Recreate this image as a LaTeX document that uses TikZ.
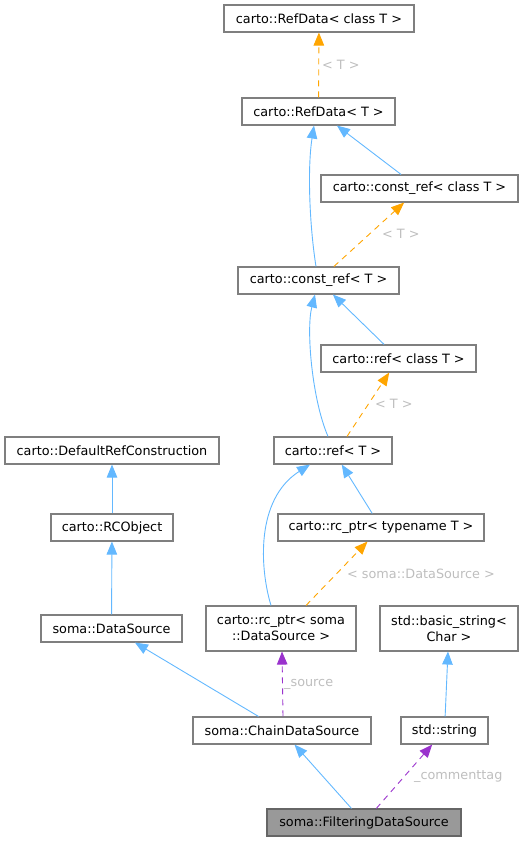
\documentclass[tikz,border=0pt]{standalone}
\usepackage{fontspec}
\setmainfont{DejaVu Sans}
\usetikzlibrary{arrows.meta}
\definecolor{txt}{HTML}{000000}
\definecolor{boxB}{HTML}{7F7F7F}
\definecolor{boxF}{HTML}{FFFFFF}
\definecolor{curF}{HTML}{999999}
\definecolor{inhE}{HTML}{63B8FF}
\definecolor{tplE}{HTML}{FFA500}
\definecolor{useE}{HTML}{9A32CD}
\definecolor{lblT}{HTML}{BEBEBE}

\begin{document}
\begin{tikzpicture}[
  x=1pt,y=-1pt,
  font=\fontsize{12.8}{16}\selectfont,text=txt,
  >={Triangle[length=13pt,width=10.5pt]},
  cls/.style={draw=boxB,fill=boxF,line width=1.1pt,align=center,inner sep=0pt,minimum height=27pt},
  cls2/.style={cls,minimum height=45pt},
  cur/.style={cls,fill=curF,draw=boxB!80!black},
  inh/.style={draw=inhE,line width=0.9pt,->},
  tpl/.style={draw=tplE,line width=0.9pt,dash pattern=on 6pt off 5pt,->},
  use/.style={draw=useE,line width=0.9pt,dash pattern=on 6pt off 5pt,->},
  lbl/.style={text=lblT,anchor=west,inner sep=0pt},
  ]
\useasboundingbox (0,0) rectangle (525,842);

% ---- template chain ----
\node[cls,minimum width=190pt] (rdc) at (319,18.5) {carto::RefData< class T >};
\node[cls,minimum width=153pt] (rd) at (318.5,111.5) {carto::RefData< T >};
\node[cls,minimum width=197pt] (crc) at (419.5,188.5) {carto::const\_ref< class T >};
\node[cls,minimum width=161pt] (cr) at (318.5,280.5) {carto::const\_ref< T >};
\node[cls,minimum width=155pt] (rfc) at (398.5,358.5) {carto::ref< class T >};
\node[cls,minimum width=118pt] (rf) at (333,450.5) {carto::ref< T >};
\node[cls,minimum width=206pt] (rpt) at (381,527.5) {carto::rc\_ptr< typename T >};
\node[cls2,minimum width=150pt] (rps) at (281,628.5) {carto::rc\_ptr< soma\\::DataSource >};

% ---- left column ----
\node[cls,minimum width=214pt] (drc) at (112,450.5) {carto::DefaultRefConstruction};
\node[cls,minimum width=122pt] (rco) at (112,527.5) {carto::RCObject};
\node[cls,minimum width=141pt] (ds) at (111.5,628.5) {soma::DataSource};

% ---- strings + bottom ----
\node[cls2,minimum width=138pt] (bs) at (449,628.5) {std::basic\_string<\\Char >};
\node[cls,minimum width=87pt] (str) at (444.5,730.5) {std::string};
\node[cls,minimum width=178pt] (cds) at (282,730.5) {soma::ChainDataSource};
\node[cur,minimum width=194pt] (fds) at (364,822.5) {soma::FilteringDataSource};

% ---- inheritance ----
\draw[inh] ([xshift=-2.5pt]cr.north) .. controls +(-6,-37) and +(-7,45) .. ([xshift=-4.5pt]rd.south);
\draw[inh] (crc) -- (rd);
\draw[inh] ([xshift=-5pt]rf.north) .. controls +(-16,-37) and +(-9,35) .. ([xshift=-3.5pt]cr.south);
\draw[inh] (rfc) -- (cr);
\draw[inh] (rpt) -- (rf);
\draw[inh] ([xshift=-10pt]rps.north) .. controls +(-11,-36) and +(-55,35) .. ([xshift=-23pt]rf.south);
\draw[inh] (rco) -- (drc);
\draw[inh] (ds) -- (rco);
\draw[inh] (cds) -- (ds);
\draw[inh] (str) -- (bs);
\draw[inh] (fds) -- (cds);

% ---- template instances ----
\draw[tpl] (rd) -- (rdc);
\draw[tpl] (cr) -- (crc);
\draw[tpl] ([xshift=14pt]rf.north) -- (rfc);
\draw[tpl] ([xshift=25pt]rps.north) -- (rpt);

% ---- members ----
\draw[use] ([xshift=1pt]cds.north) -- ([xshift=1pt]rps.south);
\draw[use] (fds) -- (str);

% ---- edge labels ----
\node[lbl] (l1) at (322,65) {< T >};
\node[lbl] (l2) at (382,234) {< T >};
\node[lbl] (l3) at (375,404) {< T >};
\node[lbl] (l4) at (347,574) {< soma::DataSource >};
\node[lbl] (l5) at (284,684) {\_source};
\node[lbl] (l6) at (414,777) {\_commenttag};

\end{tikzpicture}
\end{document}
